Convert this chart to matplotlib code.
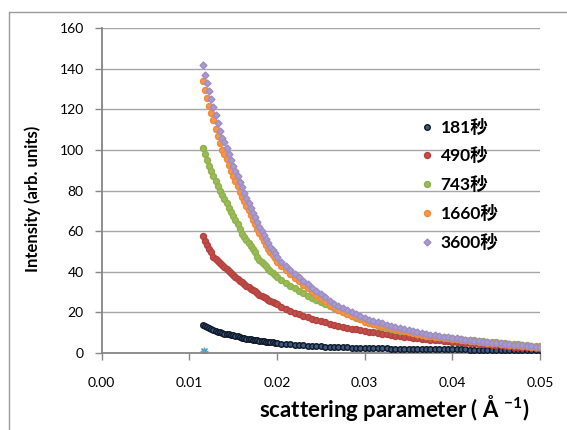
import matplotlib
matplotlib.use("Agg")
import matplotlib.pyplot as plt
from matplotlib.patches import Rectangle

plt.rcParams['font.family'] = ['Lato', 'Noto Sans CJK JP', 'DejaVu Sans']
plt.rcParams['mathtext.fontset'] = 'custom'
plt.rcParams['mathtext.rm'] = 'Lato:bold'
plt.rcParams['mathtext.bf'] = 'Lato:bold'

# scattering parameter (1/A)
q = [0.01150, 0.01175, 0.01200, 0.01225, 0.01250, 0.01275, 0.01300, 0.01325, 0.01350, 0.01375,
     0.01400, 0.01425, 0.01450, 0.01475, 0.01500, 0.01525, 0.01550, 0.01575, 0.01600, 0.01625,
     0.01650, 0.01675, 0.01700, 0.01725, 0.01750, 0.01775, 0.01800, 0.01825, 0.01850, 0.01875,
     0.01900, 0.01925, 0.01950, 0.01975, 0.02000,
     0.0205, 0.0210, 0.0215, 0.0220, 0.0225, 0.0230, 0.0235, 0.0240, 0.0245, 0.0250,
     0.0255, 0.0260, 0.0265, 0.0270, 0.0275, 0.0280, 0.0285, 0.0290, 0.0295, 0.0300,
     0.0305, 0.0310, 0.0315, 0.0320, 0.0325, 0.0330, 0.0335, 0.0340, 0.0345, 0.0350,
     0.0355, 0.0360, 0.0365, 0.0370, 0.0375, 0.0380, 0.0385, 0.0390, 0.0395, 0.0400,
     0.0405, 0.0410, 0.0415, 0.0420, 0.0425, 0.0430, 0.0435, 0.0440, 0.0445, 0.0450,
     0.0455, 0.0460, 0.0465, 0.0470, 0.0475, 0.0480, 0.0485, 0.0490, 0.0495, 0.0500]

i_181 = [14, 13.2, 12.6, 12.1, 11.6, 11.2, 10.8, 10.5, 10.2, 9.9,
         9.6, 9.4, 9.2, 9, 8.8, 8.5, 8.2, 7.9, 7.6, 7.3,
         7.1, 6.9, 6.7, 6.5, 6.4, 6.2, 6, 5.9, 5.7, 5.6,
         5.5, 5.3, 5.2, 5, 4.9,
         4.6, 4.4, 4.2, 4, 3.9, 3.8, 3.6, 3.5, 3.4, 3.3,
         3.2, 3.1, 3, 2.9, 2.9, 2.8, 2.7, 2.6, 2.6, 2.5,
         2.5, 2.4, 2.3, 2.3, 2.3, 2.2, 2.2, 2.1, 2.1, 2.1,
         2, 2, 2, 2, 1.9, 1.9, 1.9, 1.9, 1.8, 1.8,
         1.8, 1.8, 1.8, 1.7, 1.7, 1.7, 1.7, 1.7, 1.6, 1.6,
         1.6, 1.6, 1.6, 1.6, 1.5, 1.5, 1.5, 1.5, 1.5, 1.5]

i_490 = [57.5, 55, 53, 51, 49.5, 47.5, 46.5, 45.5, 44.5, 43.5,
         42.5, 41.5, 40.5, 39.5, 38.5, 37.5, 36.5, 35.6, 34.8, 34,
         33.2, 32.5, 31.7, 31, 30.3, 29.5, 28.8, 28.2, 27.5, 26.9,
         26.2, 25.6, 25, 24.4, 23.9,
         22.5, 21.5, 20.6, 19.8, 19, 18.3, 17.5, 16.9, 16.3, 15.7,
         15.1, 14.5, 14, 13.4, 12.9, 12.4, 12, 11.6, 11.2, 10.8,
         10.4, 10.1, 9.8, 9.5, 9.2, 8.9, 8.6, 8.4, 8.1, 7.8,
         7.5, 7.3, 7.1, 6.9, 6.6, 6.4, 6.2, 6, 5.8, 5.6,
         5.4, 5.2, 5, 4.8, 4.7, 4.5, 4.4, 4.2, 4, 3.9,
         3.7, 3.5, 3.4, 3.2, 3.1, 3, 2.9, 2.8, 2.6, 2.5]

i_743 = [101, 98, 95, 92, 89.5, 87, 84.5, 82, 80, 78,
         76, 74, 71.5, 69.5, 67.5, 65.5, 63.5, 61, 58.5, 57,
         55.5, 54, 52.5, 51, 49.5, 47.5, 46, 45, 44, 42.8,
         41.6, 40.5, 39.5, 38.6, 37.6,
         36, 34.5, 33, 31.8, 30.6, 29.4, 28.2, 27, 26, 25,
         24, 23, 22.2, 21.4, 20.4, 19.4, 18.4, 17.4, 16.5, 15.6,
         14.8, 14.1, 13.4, 12.8, 12.3, 11.8, 11.4, 11, 10.6, 10.2,
         9.8, 9.5, 9.2, 8.9, 8.6, 8.3, 8, 7.8, 7.5, 7.3,
         7.1, 6.9, 6.6, 6.4, 6.2, 6, 5.8, 5.6, 5.4, 5.2,
         5, 4.8, 4.6, 4.4, 4.2, 4, 3.8, 3.6, 3.4, 3.3]

i_1660 = [134, 129.5, 125.5, 121.5, 118, 114.5, 110.5, 106.8, 103.5, 100,
          98, 95.3, 92.5, 89.7, 87, 84.6, 82.2, 79.4, 77, 75,
          72.6, 70.2, 67.8, 65.4, 63.6, 61.2, 59, 57.1, 55.2, 53.3,
          51.4, 49.5, 48.1, 46.6, 45,
          42.6, 40.7, 38.8, 36.9, 35.4, 33.5, 32, 30.1, 28.6, 27,
          25.6, 23.7, 22.5, 21.3, 20.3, 19.4, 18.4, 17.5, 16.5, 15.5,
          14.9, 14.4, 13.9, 13.5, 12.8, 12.1, 11.6, 11.1, 10.6, 10.1,
          9.7, 9.3, 9, 8.6, 8.3, 8, 7.8, 7.5, 7.3, 7,
          6.7, 6.5, 6.2, 6, 5.8, 5.5, 5.3, 5.1, 4.9, 4.7,
          4.5, 4.3, 4.1, 3.9, 3.7, 3.5, 3.4, 3.2, 3, 2.8]

i_3600 = [142, 137, 133, 129, 125, 121, 117, 113, 109.5, 106,
          104, 101, 98, 95, 92, 89.5, 87, 84, 81.5, 79,
          76.5, 74, 71.5, 69, 67, 64.5, 62, 60, 58, 56,
          54, 52, 50.5, 49, 47.5,
          45, 43, 41, 39, 37.5, 35.5, 34, 32, 30.5, 29,
          27.5, 25.5, 24.3, 23, 22, 21, 20, 19, 18, 17,
          16.3, 15.8, 15.2, 14.8, 14, 13.3, 12.7, 12.2, 11.6, 11.1,
          10.6, 10.2, 9.8, 9.4, 9, 8.7, 8.4, 8.1, 7.8, 7.5,
          7.2, 6.9, 6.6, 6.3, 6.1, 5.8, 5.6, 5.3, 5.1, 4.9,
          4.7, 4.5, 4.3, 4.1, 3.9, 3.7, 3.5, 3.3, 3.1, 3.0]

labels = ['181秒', '490秒', '743秒', '1660秒', '3600秒']
extra_q = [0.0117]
extra_i = [1]

W, H = 567, 430
fig = plt.figure(figsize=(5.67, 4.3), dpi=100)
ax = fig.add_axes([101.7 / W, 1 - 353 / H, (540 - 101.7) / W, (353 - 28) / H])

# outer chart border
fig.patches.append(Rectangle((9 / W, -0.2), 1.2, 1.2 - 11.5 / H,
                             transform=fig.transFigure, fill=False,
                             edgecolor='#9a9a9a', lw=1.0))

ax.plot(extra_q, extra_i, 's', color='#a9c77e', ms=3.5, zorder=2)
ax.plot(extra_q, extra_i, 'x', color='#4f81bd', ms=5, mew=1.0, zorder=2)
ax.plot(extra_q, extra_i, '+', color='#4bacc6', ms=6, mew=1.0, zorder=2)

ax.plot(q, i_181, 'o', ms=4, mfc='#3e5a80', mec='#0e1726', mew=1.0, label=labels[0], zorder=3)
ax.plot(q, i_490, 'o', ms=4.3, color='#c0504d', mec='#b5413e', label=labels[1], zorder=3)
ax.plot(q, i_743, 'o', ms=4.3, color='#9bbb59', mec='#8fb14c', label=labels[2], zorder=3)
ax.plot(q, i_1660, 'o', ms=4.3, color='#f79646', mec='#ee8a38', label=labels[3], zorder=3)
ax.plot(q, i_3600, 'D', ms=3.5, color='#a99bcd', mec='#9d8dc6', label=labels[4], zorder=3)

ax.set_xlim(0, 0.05)
ax.set_ylim(0, 160)
ax.set_xticks([0, 0.01, 0.02, 0.03, 0.04, 0.05])
ax.set_xticklabels(['0.00', '0.01', '0.02', '0.03', '0.04', '0.05'])
ax.set_yticks(range(0, 161, 20))
ax.tick_params(labelsize=10, color='#868686', length=5, width=1, pad=8)
ax.tick_params(axis='x', pad=12)

ax.grid(axis='y', color='#a6a6a6', lw=1.0)
ax.set_axisbelow(True)
for s in ['top', 'right']:
    ax.spines[s].set_visible(False)
for s in ['left', 'bottom']:
    ax.spines[s].set_color('#868686')
    ax.spines[s].set_linewidth(1.3)

fig.text(33 / W, 1 - 199 / H, 'Intensity (arb. units)', rotation=90,
         ha='center', va='center', fontsize=12, fontweight='bold')
fig.text(529 / W, 1 - 408 / H, 'scattering parameter ( Å $^{-1}$)',
         ha='right', va='center', fontsize=16, fontweight='bold')

handles, labs = ax.get_legend_handles_labels()
leg = ax.legend(handles, labs, loc='upper left', bbox_to_anchor=(406 / W, 1 - 103 / H),
                bbox_transform=fig.transFigure, frameon=False,
                prop={'weight': 'bold', 'size': 12.5}, markerscale=1.0,
                handlelength=0.6, handletextpad=0.5, labelspacing=0.68)

fig.savefig('out.png', dpi=100)
